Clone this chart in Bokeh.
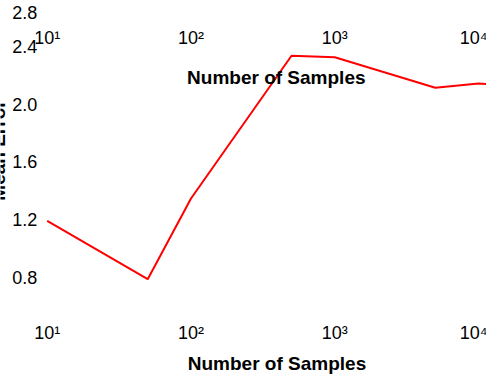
import math
from bokeh.plotting import figure
from bokeh.models import Label, Range1d
from bokeh.embed import file_html
from bokeh.resources import INLINE

# ---- data ----
samples = [10, 50, 100, 500, 1000, 5000, 10000, 20000]
mean_error = [1.19, 0.785, 1.345, 2.335, 2.325, 2.113, 2.142, 2.121]

x_ticks = [10, 100, 1000, 10000]
x_tick_labels = ["10\u00b9", "10\u00b2", "10\u00b3", "10\u2074"]
y_ticks = [0.8, 1.2, 1.6, 2.0, 2.4, 2.8]
y_tick_labels = ["0.8", "1.2", "1.6", "2.0", "2.4", "2.8"]
x_label = "Number of Samples"
y_label = "Mean Error"

FONT = "Liberation Sans"
TICK_SIZE = "18px"
LABEL_SIZE = "19px"

W, H = 486, 374
# plotting area spans the whole canvas; ranges chosen so that
# 10 -> 46.7 px, one decade = 143.8 px; y: 1.6 -> 161.2 px, 1 unit = 144.15 px
x0_px, dec_px = 46.7, 143.8
y_mid_val, y_mid_px, unit_px = 1.6, 161.2, 144.15
x_start = 10 ** (1 - x0_px / dec_px)
x_end = 10 ** (1 + (W - x0_px) / dec_px)
y_top = y_mid_val + y_mid_px / unit_px
y_bot = y_mid_val - (H - y_mid_px) / unit_px

p = figure(width=W, height=H, x_axis_type="log",
           x_range=Range1d(x_start, x_end), y_range=Range1d(y_bot, y_top),
           x_axis_location=None, y_axis_location=None,
           output_backend="svg", toolbar_location=None,
           min_border=0, min_border_left=0, min_border_right=0,
           min_border_top=0, min_border_bottom=0)
p.outline_line_color = None
p.grid.visible = False
p.background_fill_color = "white"
p.border_fill_color = "white"

p.line(samples, mean_error, line_color="red", line_width=2)

def txt(**kw):
    base = dict(text_font=FONT, text_color="black", text_baseline="middle")
    base.update(kw)
    p.add_layout(Label(**base))

# x tick labels: bottom row and the duplicated top row
for i, (t, lab) in enumerate(zip(x_ticks, x_tick_labels)):
    xoff = -5 if i == len(x_ticks) - 1 else 0
    for mid_y in (332.5, 37.5):
        txt(x=t, y=mid_y, x_units="data", y_units="canvas", x_offset=xoff,
            text=lab, text_align="center", text_font_size=TICK_SIZE)

# y tick labels (2.8 lies above the area and is clamped to the top edge)
for t, lab in zip(y_ticks, y_tick_labels):
    if t <= y_top:
        txt(x=36.7, y=t, x_units="canvas", y_units="data",
            text=lab, text_align="right", text_font_size=TICK_SIZE)
    else:
        txt(x=36.7, y=11.7, x_units="canvas", y_units="canvas",
            text=lab, text_align="right", text_font_size=TICK_SIZE)

# axis titles
for mid_y, cx in ((76.7, 275.8), (362.5, 276.5)):
    txt(x=cx, y=mid_y, x_units="canvas", y_units="canvas",
        text=x_label, text_align="center",
        text_font_size=LABEL_SIZE, text_font_style="bold")

# y title: only its lower edge shows at the left border, as in the reference
txt(x=-2, y=150, x_units="canvas", y_units="canvas",
    text=y_label, angle=math.pi / 2, text_align="center",
    text_font_size=LABEL_SIZE, text_font_style="bold")

open("out.html", "w").write(file_html(p, INLINE))
